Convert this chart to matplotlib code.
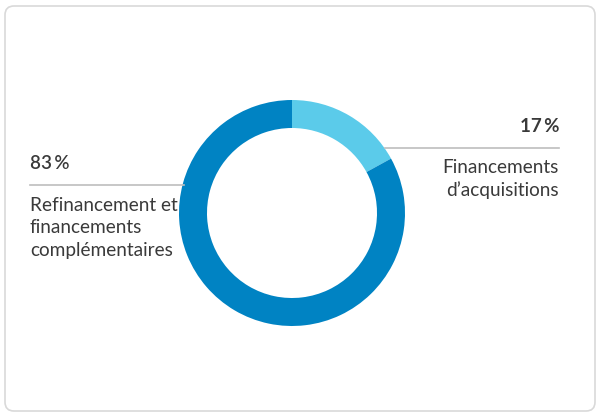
import matplotlib
matplotlib.use("Agg")
import matplotlib.pyplot as plt
from matplotlib.patches import FancyBboxPatch

labels = ["Financements\nd\u2019acquisitions", "Refinancement et\nfinancements\ncompl\u00e9mentaires"]
values = [17, 83]
pct_labels = ["17\u2009%", "83\u2009%"]
colors = ["#5BCBEA", "#0083C3"]

plt.rcParams['font.family'] = ['Lato', 'DejaVu Sans']

W, H = 600, 416
fig = plt.figure(figsize=(W / 100, H / 100), dpi=100)
ax = fig.add_axes([0, 0, 1, 1])

def Y(y):
    return H - y

# card border
ax.add_patch(FancyBboxPatch((5, Y(411)), 590, 405, boxstyle="round,pad=0,rounding_size=9",
                            facecolor="white", edgecolor="#D9D9D9", linewidth=1.2))

ax.pie(values, colors=colors, startangle=90, counterclock=False,
       center=(292, Y(213)), radius=113,
       wedgeprops=dict(width=28, linewidth=0), frame=True)
ax.set_xlim(0, W)
ax.set_ylim(0, H)
ax.set_aspect('equal')
ax.axis('off')

txt = "#3A3A3A"
# right label
ax.plot([385, 559], [Y(148), Y(148)], color="#BDBDBD", lw=1.2)
ax.text(559, Y(132), pct_labels[0], ha="right", va="baseline", fontsize=13.5,
        fontweight="bold", color=txt)
ax.text(559, Y(159), labels[0], ha="right", va="top", fontsize=13.7,
        color=txt, linespacing=1.38, multialignment="right")

# left label
ax.plot([30, 184], [Y(185), Y(185)], color="#BDBDBD", lw=1.2)
ax.text(30, Y(169), pct_labels[1], ha="left", va="baseline", fontsize=13.5,
        fontweight="semibold", color=txt)
ax.text(30, Y(197), labels[1], ha="left", va="top", fontsize=13.7,
        color=txt, linespacing=1.38)

fig.savefig("out.png", dpi=100)
